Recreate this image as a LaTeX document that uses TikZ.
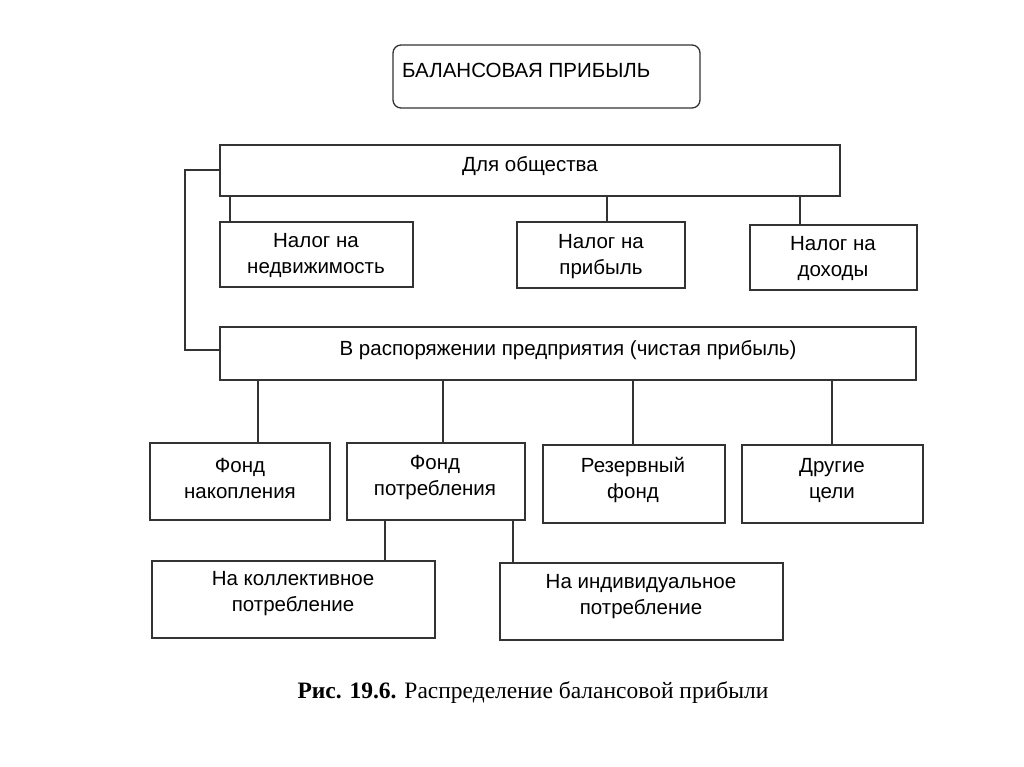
\documentclass[tikz,border=0pt]{standalone}
\usepackage{fontspec}
\setmainfont{Liberation Sans}
\newfontfamily\capfont{Liberation Serif}
\begin{document}
\begin{tikzpicture}[x=1pt,y=-1pt,
  bx/.style={draw=black!80,line width=1.3pt,inner sep=0pt},
  tx/.style={align=center,inner sep=0pt,font=\fontsize{20.5}{26}\selectfont},
  ln/.style={draw=black!80,line width=1.3pt}]
\fill[white] (0,0) rectangle (1024,767);
\useasboundingbox (0,0) rectangle (1024,767);
\def\B(#1,#2,#3,#4,#5,#6,#7,#8){\node[bx,minimum width=#4-#2,minimum height=#5-#3] (#1) at ({(#2+#4)/2},{(#3+#5)/2}) {};
\node[tx] (#1t) at (#6,#7) {#8};}
\node[bx,rounded corners=8pt,minimum width=307,minimum height=63] (top) at (546.5,76.5) {};
\node[tx,anchor=west] (topt) at (402,70) {БАЛАНСОВАЯ ПРИБЫЛЬ};
\B(obs,220,145,840,196,530,166,{Для общества})
\B(t1,220,222,413,287,316,255,{Налог на\\недвижимость})
\B(t2,517,222,685,288,601,257,{Налог на\\прибыль})
\B(t3,750,225,917,290,833,258,{Налог на\\доходы})
\B(vr,220,327,916,380,568,350,{В распоряжении предприятия (чистая прибыль)})
\B(f1,150,443,330,520,240,478,{Фонд\\накопления})
\B(f2,347,443,525,520,435,478,{Фонд\\потребления})
\B(f3,543,445,725,523,633,480,{Резервный\\фонд})
\B(f4,742,445,923,523,832,480,{Другие\\цели})
\B(k1,152,561,435,638,293,594,{На коллективное\\потребление})
\B(k2,500,563,783,640,641,597,{На индивидуальное\\потребление})
\coordinate (c1) at (185,170);
\coordinate (c2) at (185,350);
\draw[ln] (obs.west |- c1) -- (c1) -- (c2) -- (vr.west |- c2);
\foreach \x/\a in {230/t1,607/t2,800/t3} \draw[ln] (obs.south -| \x,0) -- (\a.north -| \x,0);
\foreach \x/\a in {258/f1,443/f2,633/f3,832/f4} \draw[ln] (vr.south -| \x,0) -- (\a.north -| \x,0);
\draw[ln] (f2.south -| 385,0) -- (k1.north -| 385,0);
\draw[ln] (f2.south -| 513,0) -- (k2.north -| 513,0);
\node[font=\capfont\fontsize{23.5}{28}\selectfont] (cap) at (533,693) {\textbf{Рис. 19.6.} Распределение балансовой прибыли};
\end{tikzpicture}
\end{document}
